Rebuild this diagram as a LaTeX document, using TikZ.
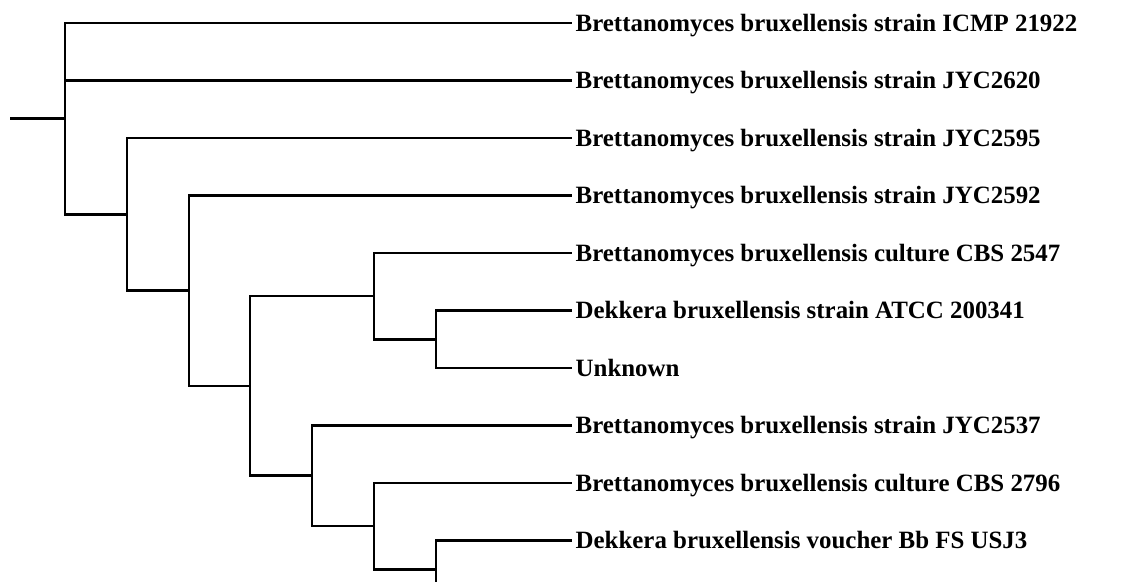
\documentclass[tikz,border=0pt]{standalone}
\usepackage{fontspec}
\setmainfont{Liberation Serif}
\usepackage{tikz}
\tikzset{taxon/.style = {anchor = west, inner xsep = 3.5pt, inner ysep = 0, text height = 16.6pt, text depth = 0pt, font = \bfseries\fontsize{24.9}{28}\selectfont},
    branch/.style = {line width = 2.7pt, line join = miter}}

\begin{document}
\begin{tikzpicture}[x = 1pt, y = -1pt]
    \useasboundingbox (0, 0) rectangle (1148, 582);

    \node [taxon] (t1) at (572, 23) {Brettanomyces bruxellensis strain ICMP 21922};
    \node [taxon] (t2) at (572, 80.5) {Brettanomyces bruxellensis strain JYC2620};
    \node [taxon] (t3) at (572, 138) {Brettanomyces bruxellensis strain JYC2595};
    \node [taxon] (t4) at (572, 195.5) {Brettanomyces bruxellensis strain JYC2592};
    \node [taxon] (t5) at (572, 253) {Brettanomyces bruxellensis culture CBS 2547};
    \node [taxon] (t6) at (572, 310.5) {Dekkera bruxellensis strain ATCC 200341};
    \node [taxon] (t7) at (572, 368) {Unknown};
    \node [taxon] (t8) at (572, 425.5) {Brettanomyces bruxellensis strain JYC2537};
    \node [taxon] (t9) at (572, 483) {Brettanomyces bruxellensis culture CBS 2796};
    \node [taxon] (t10) at (572, 540.5) {Dekkera bruxellensis voucher Bb FS USJ3};

    \coordinate (stem) at (10, 118.7);
    \coordinate (root) at (65, 118.7);
    \coordinate (nA) at (127, 214.4);
    \coordinate (nB) at (189, 290.7);
    \coordinate (nC) at (250, 386);
    \coordinate (nD) at (374, 296.1);
    \coordinate (nE) at (436, 339.25);
    \coordinate (nF) at (312, 475.8);
    \coordinate (nG) at (374, 526.1);
    \coordinate (nH) at (436, 569.25);
    \coordinate (cut) at (436, 582);

    \draw [branch] (stem) -- (root);
    \draw [branch] (root) |- (t1.west);
    \draw [branch] (root) |- (t2.west);
    \draw [branch] (root) |- (nA);
    \draw [branch] (nA) |- (t3.west);
    \draw [branch] (nA) |- (nB);
    \draw [branch] (nB) |- (t4.west);
    \draw [branch] (nB) |- (nC);
    \draw [branch] (nC) |- (nD);
    \draw [branch] (nC) |- (nF);
    \draw [branch] (nD) |- (t5.west);
    \draw [branch] (nD) |- (nE);
    \draw [branch] (nE) |- (t6.west);
    \draw [branch] (nE) |- (t7.west);
    \draw [branch] (nF) |- (t8.west);
    \draw [branch] (nF) |- (nG);
    \draw [branch] (nG) |- (t9.west);
    \draw [branch] (nG) |- (nH);
    \draw [branch] (nH) |- (t10.west);
    \draw [branch] (nH) -- (cut);
\end{tikzpicture}
\end{document}
